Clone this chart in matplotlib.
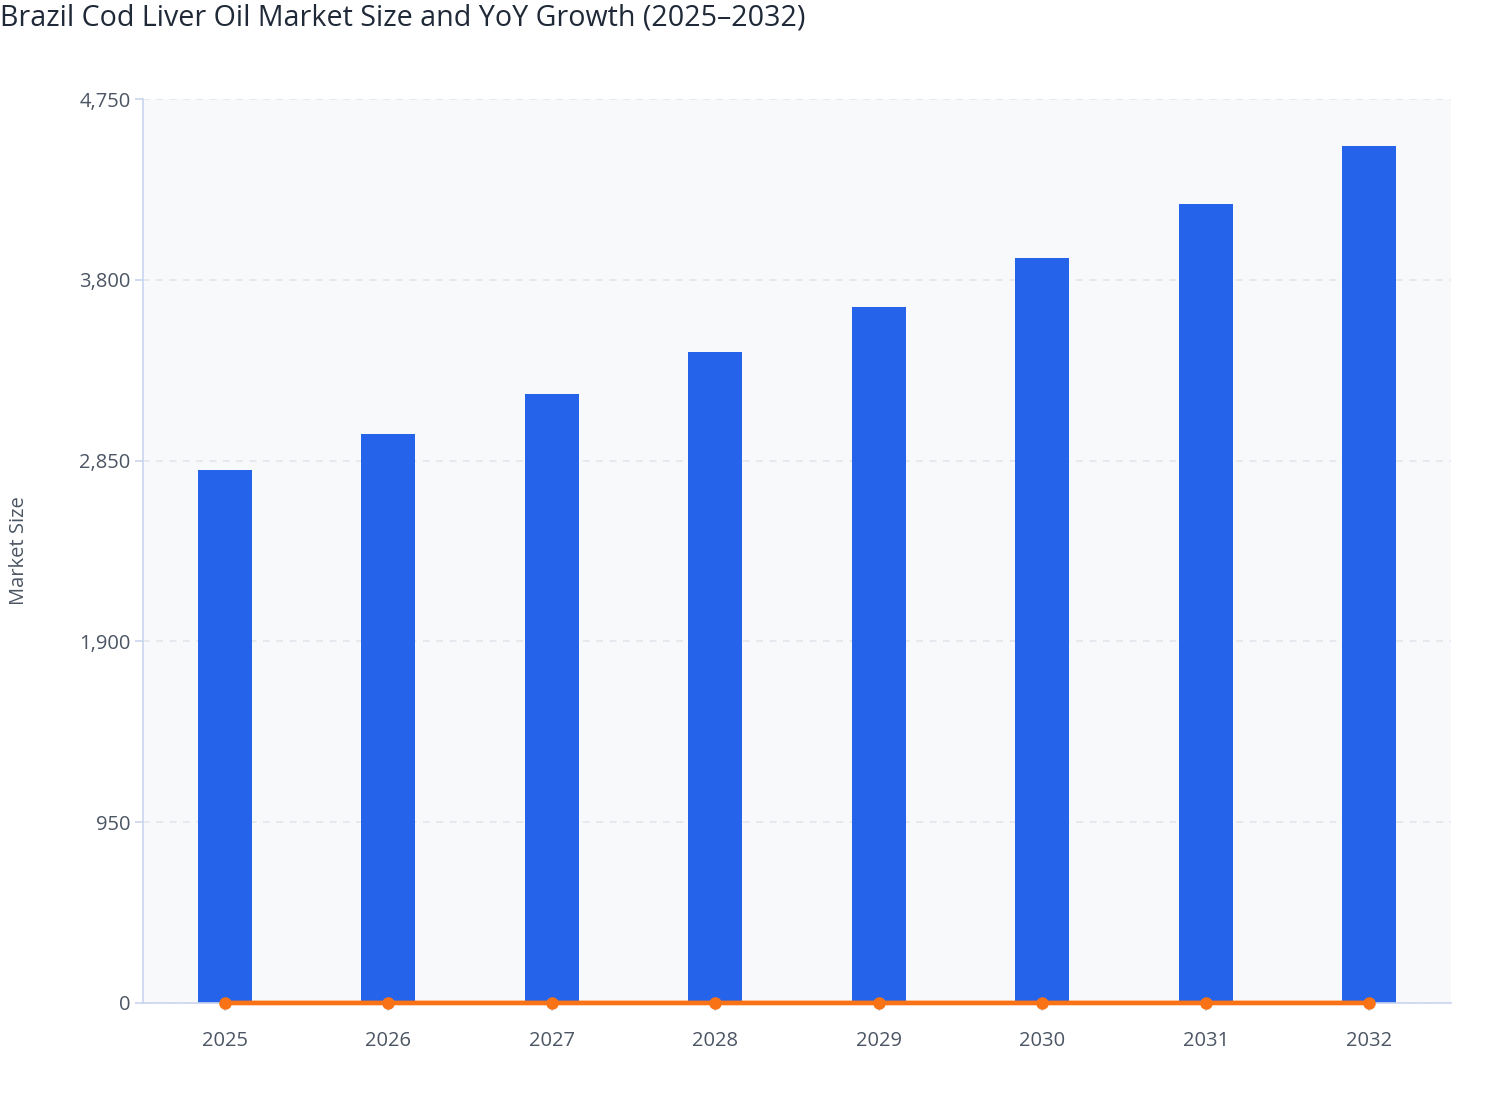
import matplotlib
matplotlib.use('Agg')
from matplotlib import pyplot as plt

years = ['2025', '2026', '2027', '2028', '2029', '2030', '2031', '2032']
market_size = [2800, 2990, 3200, 3420, 3655, 3915, 4200, 4505]
# growth as a fraction, drawn on the same axis so it sits on the baseline
yoy_growth = [0.0, 0.068, 0.070, 0.069, 0.069, 0.071, 0.073, 0.072]
y_ticks = [0, 950, 1900, 2850, 3800, 4750]

plt.rcParams['font.family'] = ['Open Sans', 'DejaVu Sans']

fig = plt.figure(figsize=(15.08, 11.2), dpi=100)
ax = fig.add_axes([0.0948, 0.1045, 0.8674, 0.8071])
ax.set_facecolor('#F8F9FB')

x = list(range(len(years)))
ax.bar(x, market_size, width=0.33, color='#2563EB', zorder=2)
ax.plot(x, yoy_growth, color='#F97316', lw=3.4, marker='o', markersize=8, zorder=3, clip_on=False)

ax.set_xlim(-0.5, 7.5)
ax.set_ylim(0, 4750)
ax.set_xticks(x)
ax.set_xticklabels(years)
ax.set_yticks(y_ticks)
ax.set_yticklabels(['{:,}'.format(v) for v in y_ticks])

ax.grid(axis='y', color='#E2E5EA', linestyle=(0, (4, 4)), linewidth=1.2, zorder=0)
for s in ['top', 'right']:
    ax.spines[s].set_visible(False)
for s in ['left', 'bottom']:
    ax.spines[s].set_color('#C9D4EE')
    ax.spines[s].set_linewidth(1.2)
ax.tick_params(axis='both', colors='#C9D4EE', labelcolor='#4B5563', labelsize=14.5, length=6, width=1.2)
ax.tick_params(axis='x', pad=14)
ax.tick_params(axis='y', pad=3)

ax.set_ylabel('Market Size', fontsize=14.5, color='#4B5563', labelpad=36)
fig.text(0.0, 0.997, 'Brazil Cod Liver Oil Market Size and YoY Growth (2025\u20132032)',
         fontsize=20.6, color='#1F2937', ha='left', va='top')

fig.savefig('out.png', dpi=100)
